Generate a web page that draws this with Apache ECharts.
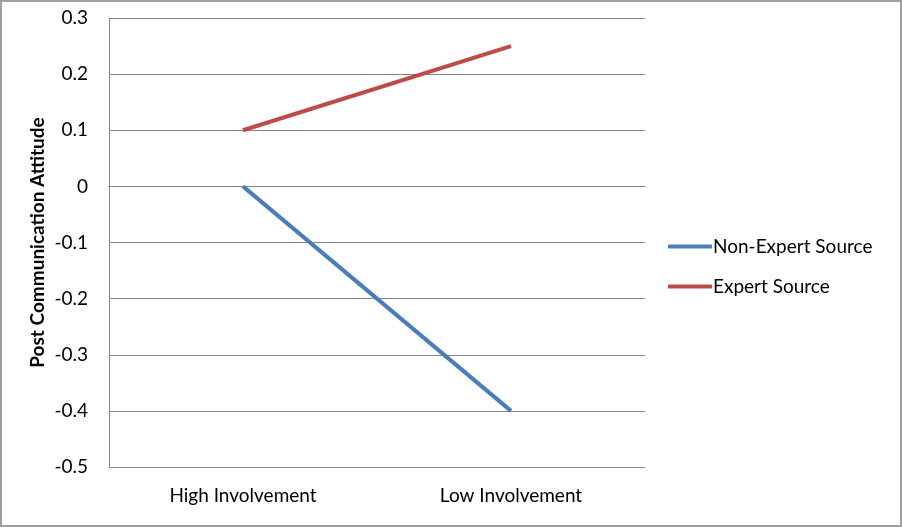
<!DOCTYPE html>
<html><head><meta charset="utf-8">
<script src="https://cdn.jsdelivr.net/npm/echarts@6/dist/echarts.min.js"></script>
<style>html,body{margin:0;padding:0;background:#fff}#c{width:902px;height:527px}</style>
</head><body><div id="c"></div>
<script>
const categories = ["High Involvement", "Low Involvement"];
const nonExpert = [0, -0.4];
const expert = [0.1, 0.25];
const yTicks = [-0.5, -0.4, -0.3, -0.2, -0.1, 0, 0.1, 0.2, 0.3];
const FONT = "Lato, 'Open Sans', sans-serif";
const chart = echarts.init(document.getElementById('c'), null, {renderer: 'canvas'});
chart.setOption({
  animation: false,
  backgroundColor: '#fff',
  graphic: [{type: 'rect', shape: {x: 1, y: 1, width: 900, height: 525}, style: {fill: 'none', stroke: '#a0a0a0', lineWidth: 2}, silent: true}],
  grid: {left: 109, right: 257, top: 18, bottom: 60},
  legend: {
    orient: 'vertical', left: 663, top: 232, itemWidth: 44, itemHeight: 4, itemGap: 21,
    icon: 'roundRect',
    textStyle: {fontFamily: FONT, fontSize: 19, color: '#000', padding: [0, 0, 0, -4]},
    data: ['Non-Expert Source', 'Expert Source']
  },
  xAxis: {
    type: 'category', data: categories, boundaryGap: true,
    axisLine: {lineStyle: {color: '#888', width: 1}},
    axisTick: {show: false},
    axisLabel: {fontFamily: FONT, fontSize: 19, color: '#000', margin: 19}
  },
  yAxis: {
    type: 'value', min: yTicks[0], max: yTicks[yTicks.length - 1], interval: 0.1,
    name: 'Post Communication Attitude', nameLocation: 'middle', nameGap: 62, nameRotate: 90,
    nameMoveOverlap: false,
    nameTextStyle: {fontFamily: FONT, fontSize: 19, fontWeight: 'bold', color: '#000'},
    axisLine: {show: true, lineStyle: {color: '#888'}},
    axisTick: {show: false},
    splitLine: {lineStyle: {color: '#888', width: 1}},
    axisLabel: {fontFamily: FONT, fontSize: 19, color: '#000', margin: 21,
      formatter: v => { const r = Math.round(v * 10) / 10; return r === 0 ? '0' : String(r); }}
  },
  series: [
    {name: 'Non-Expert Source', type: 'line', data: nonExpert, symbol: 'none', lineStyle: {width: 4, color: '#4a7ebb'}, itemStyle: {color: '#4a7ebb'}},
    {name: 'Expert Source', type: 'line', data: expert, symbol: 'none', lineStyle: {width: 4, color: '#be4b48'}, itemStyle: {color: '#be4b48'}}
  ]
});
</script></body></html>
